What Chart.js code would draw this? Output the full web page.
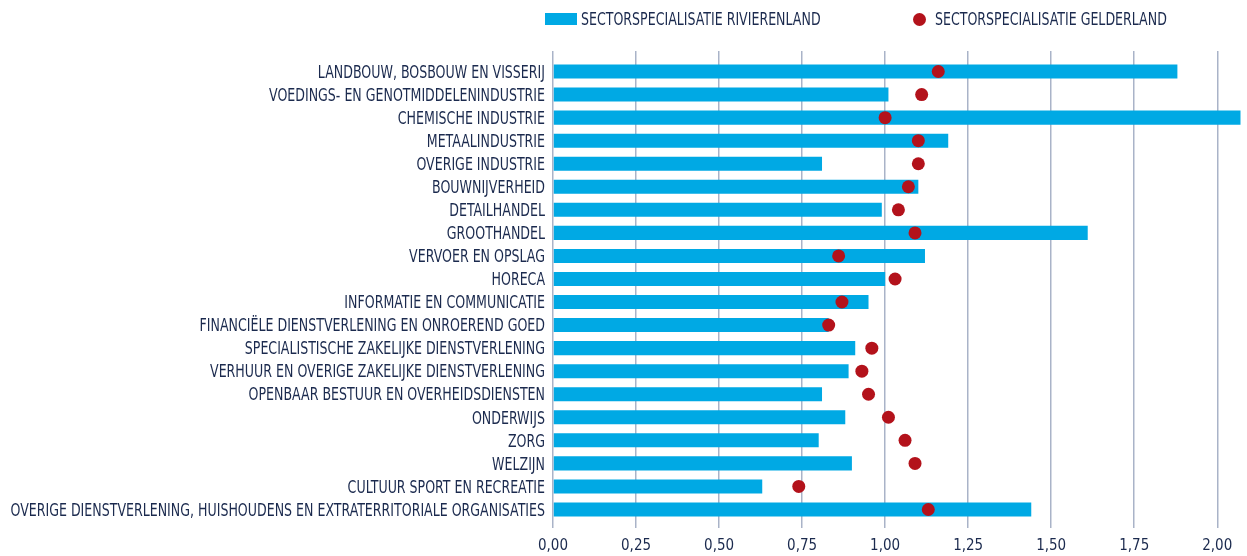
<!DOCTYPE html>
<html>
<head>
<meta charset="utf-8">
<script src="https://cdn.jsdelivr.net/npm/chart.js@4.4.1/dist/chart.umd.min.js"></script>
<style>
  html, body { margin: 0; padding: 0; background: #ffffff; }
  #wrap { position: relative; width: 1247px; height: 556px; }
  .leg { position: absolute; top: 9px; height: 20px; display: flex; align-items: center;
         font-family: "Liberation Sans Narrow", "DejaVu Sans Condensed", sans-serif; font-size: 17.5px; color: #1b2a4e; white-space: nowrap; }
  .leg .txt { display: inline-block; transform: scaleX(0.8); transform-origin: left center; }
  .box { width: 32px; height: 12px; background: #00a9e4; margin-right: 4px; flex: none; }
  .dot { width: 13px; height: 13px; border-radius: 50%; background: #b3121b; margin-right: 9px; flex: none; }
  canvas { position: absolute; left: 0; top: 0; }
</style>
</head>
<body>
<div id="wrap">
  <canvas id="c" width="1247" height="556"></canvas>
  <div class="leg" style="left:545px"><span class="box"></span><span class="txt" id="l1"></span></div>
  <div class="leg" style="left:913px"><span class="dot"></span><span class="txt" id="l2"></span></div>
</div>
<script>
const categories = [
  "LANDBOUW, BOSBOUW EN VISSERIJ",
  "VOEDINGS- EN GENOTMIDDELENINDUSTRIE",
  "CHEMISCHE INDUSTRIE",
  "METAALINDUSTRIE",
  "OVERIGE INDUSTRIE",
  "BOUWNIJVERHEID",
  "DETAILHANDEL",
  "GROOTHANDEL",
  "VERVOER EN OPSLAG",
  "HORECA",
  "INFORMATIE EN COMMUNICATIE",
  "FINANCIËLE DIENSTVERLENING EN ONROEREND GOED",
  "SPECIALISTISCHE ZAKELIJKE DIENSTVERLENING",
  "VERHUUR EN OVERIGE ZAKELIJKE DIENSTVERLENING",
  "OPENBAAR BESTUUR EN OVERHEIDSDIENSTEN",
  "ONDERWIJS",
  "ZORG",
  "WELZIJN",
  "CULTUUR SPORT EN RECREATIE",
  "OVERIGE DIENSTVERLENING, HUISHOUDENS EN EXTRATERRITORIALE ORGANISATIES"
];
const seriesNames = ["SECTORSPECIALISATIE RIVIERENLAND", "SECTORSPECIALISATIE GELDERLAND"];
const rivierenland = [1.88, 1.01, 2.15, 1.19, 0.81, 1.10, 0.99, 1.61, 1.12, 1.00,
                      0.95, 0.83, 0.91, 0.89, 0.81, 0.88, 0.80, 0.90, 0.63, 1.44];
const gelderland   = [1.16, 1.11, 1.00, 1.10, 1.10, 1.07, 1.04, 1.09, 0.86, 1.03,
                      0.87, 0.83, 0.96, 0.93, 0.95, 1.01, 1.06, 1.09, 0.74, 1.13];
const tickValues = [0, 0.25, 0.5, 0.75, 1.0, 1.25, 1.5, 1.75, 2.0];
const tickLabels = ["0,00", "0,25", "0,50", "0,75", "1,00", "1,25", "1,50", "1,75", "2,00"];
const axisMin = 0, axisMax = 2.07;

document.getElementById('l1').textContent = seriesNames[0];
document.getElementById('l2').textContent = seriesNames[1];

const FONT = '"Liberation Sans Narrow", "DejaVu Sans Condensed", sans-serif';
const TEXT = '#1b2a4e';
const GRID = '#a9b3c8';

function setTicks(axis) {
  axis.ticks = tickValues.map(v => ({ value: v }));
}

// Draws the category labels of the y scale in a condensed (horizontally scaled) face.
const condensedLabels = {
  id: 'condensedLabels',
  afterDraw(chart) {
    const s = chart.scales.y;
    const ctx = chart.ctx;
    const size = 17.5;
    ctx.save();
    ctx.font = size + 'px ' + FONT;
    ctx.fillStyle = TEXT;
    ctx.textAlign = 'right';
    ctx.textBaseline = 'alphabetic';
    const xr = s.right - 8;
    s.getLabels().forEach((lab, i) => {
      const y = s.getPixelForTick(i);
      ctx.save();
      ctx.translate(xr, y + size * 0.716 / 2);
      ctx.scale(0.8, 1);
      ctx.fillText(lab, 0, 0);
      ctx.restore();
    });
    ctx.restore();
  }
};

new Chart(document.getElementById('c'), {
  data: {
    labels: categories,
    datasets: [
      {
        type: 'line',
        label: seriesNames[1],
        data: gelderland,
        indexAxis: 'y',
        xAxisID: 'x',
        showLine: false,
        pointRadius: 6.5,
        pointHoverRadius: 6.5,
        pointBackgroundColor: '#b3121b',
        pointBorderColor: '#b3121b',
        pointBorderWidth: 0,
        clip: false,
        order: 0
      },
      {
        type: 'bar',
        label: seriesNames[0],
        data: rivierenland,
        indexAxis: 'y',
        xAxisID: 'x',
        backgroundColor: '#00a9e4',
        borderWidth: 0,
        categoryPercentage: 1,
        barPercentage: 0.61,
        order: 1
      }
    ]
  },
  plugins: [condensedLabels],
  options: {
    indexAxis: 'y',
    responsive: false,
    animation: false,
    layout: { padding: { top: 51, right: 6, bottom: 3, left: 0 } },
    plugins: { legend: { display: false }, tooltip: { enabled: false } },
    scales: {
      x: {
        type: 'linear',
        position: 'bottom',
        min: axisMin, max: axisMax,
        afterBuildTicks: setTicks,
        afterFit: s => { s.height = 32; },
        ticks: { callback: (v, i) => tickLabels[i], color: TEXT, padding: 9,
                 maxRotation: 0, autoSkip: false, font: { family: FONT, size: 15 } },
        grid: { color: GRID, lineWidth: 1.5, tickLength: 7, drawTicks: true },
        border: { display: false }
      },
      x2: {
        type: 'linear',
        position: 'top',
        min: axisMin, max: axisMax,
        afterBuildTicks: setTicks,
        ticks: { display: false },
        grid: { color: GRID, lineWidth: 1.5, tickLength: 9, drawTicks: true, drawOnChartArea: false },
        border: { display: false }
      },
      y: {
        type: 'category',
        offset: true,
        afterFit: s => { s.width = 553; },
        grid: { display: false, drawTicks: false },
        border: { display: false },
        ticks: { display: false }
      }
    }
  }
});
</script>
</body>
</html>
